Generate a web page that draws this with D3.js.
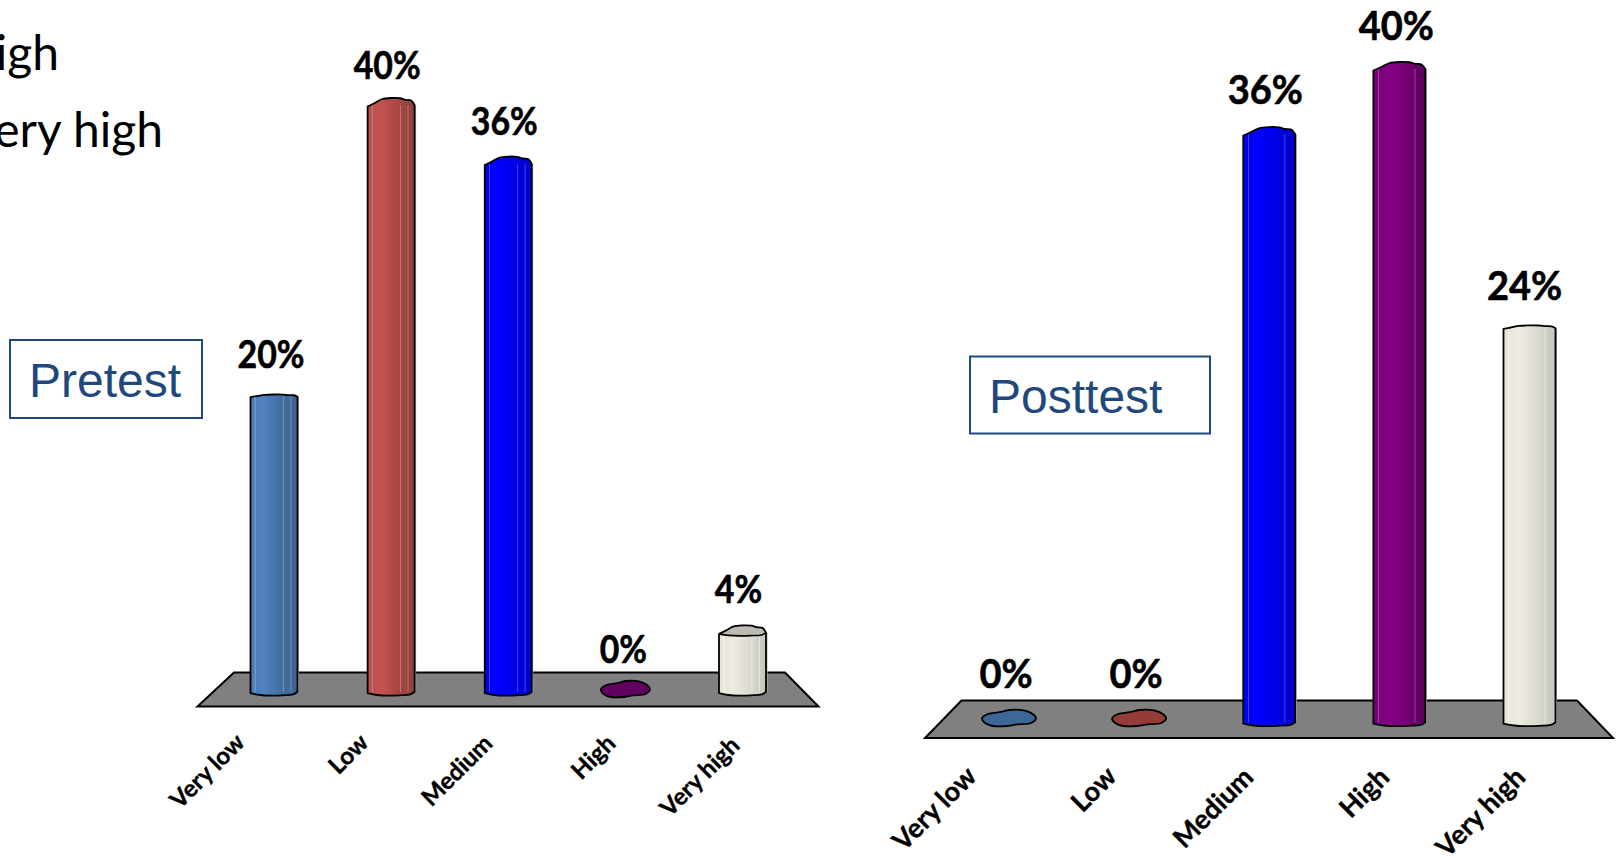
<!DOCTYPE html>
<html>
<head>
<meta charset="utf-8">
<script src="https://cdnjs.cloudflare.com/ajax/libs/d3/7.8.5/d3.min.js"></script>
<style>
html,body{margin:0;padding:0;background:#fff;overflow:hidden}
svg{display:block}
</style>
</head>
<body>
<svg id="chart" width="1616" height="858"></svg>
<script>
const categories = ["Very low", "Low", "Medium", "High", "Very high"];
const pretestValues = [20, 40, 36, 0, 4];
const posttestValues = [0, 0, 36, 40, 24];
const legendLines = ["High", "Very high"];

// Body gradients per category: light edge, bright, mid, dark edge
const bodyRamps = [
  ["#4a7db8", "#4f82bf", "#456f9f", "#3b6493"],
  ["#b84f4c", "#c25350", "#a94744", "#8f3f3d"],
  ["#0000f0", "#0000ff", "#0000e6", "#0000c8"],
  ["#770077", "#840084", "#760076", "#5c005c"],
  ["#e4e3d9", "#eeece1", "#dddcd2", "#c6c5bc"]
];
const flatColors = ["#3d6796", "#933c3a", "#0000c0", "#620062", "#bcbab3"];

const svg = d3.select("#chart");
const defs = svg.append("defs");
bodyRamps.forEach((ramp, i) => {
  const g = defs.append("linearGradient").attr("id", "ramp" + i);
  [[0, ramp[0]], [0.3, ramp[1]], [0.62, ramp[2]], [1, ramp[3]]].forEach(([o, c]) =>
    g.append("stop").attr("offset", o).attr("stop-color", c));
});

// Irregular rim of the faceted cylinders, in units of half width / rim height
const rimTop = [[-1, 0.7], [-0.72, 0.05], [-0.4, -0.75], [0, -1], [0.38, -0.95], [0.62, -0.62], [0.85, -0.5], [1, 0.45]];
const rimBottom = [[1, 0.45], [0.82, 0.9], [0.35, 1.05], [-0.1, 1.1], [-0.6, 1], [-1, 0.7]];
const blobShape = [[-1, 0.05], [-0.78, -0.5], [-0.35, -0.72], [0, -1], [0.55, -0.95], [0.88, -0.5], [1, 0.05],
                   [0.82, 0.62], [0.3, 0.8], [-0.05, 1], [-0.6, 1], [-0.9, 0.6]];

function drawPanel(cfg) {
  const g = svg.append("g");
  const x = d3.scalePoint().domain(cfg.categories).range(cfg.xRange);
  const y = d3.scaleLinear().domain([0, 40]).range(cfg.yRange);
  const half = cfg.barWidth / 2;

  // Grey floor of the 3-D plot
  const [tl, tr, br, bl] = cfg.floor;
  g.append("path")
    .attr("d", d3.line()([tl, tr, br, bl]) + "Z")
    .attr("fill", "#808080").attr("stroke", "#000").attr("stroke-width", 2).attr("stroke-linejoin", "miter");

  const curve = d3.line().curve(d3.curveCatmullRomClosed.alpha(0.5));
  const open = d3.line().curve(d3.curveCatmullRom.alpha(0.5));

  cfg.values.forEach((v, i) => {
    const cx = x(cfg.categories[i]);
    const color = `url(#ramp${i})`;
    if (v === 0) {
      // A zero value leaves only the flattened footprint on the floor
      g.append("path")
        .attr("d", curve(blobShape.map(([a, b]) => [cx + a * (half + 1), y(0) + b * 8])))
        .attr("fill", flatColors[i]).attr("stroke", "#000").attr("stroke-width", 1.8);
    } else {
      const top = y(v);
      const rim = cfg.rim[i];
      const tp = rimTop.map(([a, b]) => [cx + a * half, top + b * rim]);
      const bt = rimBottom.map(([a, b]) => [cx + a * half, cfg.base - 6 + b * 6]);
      const topPath = open(tp);
      const bottomPath = open(bt);
      // grey edge on the right side of the cylinder
      g.append("line").attr("x1", cx + half + 1).attr("x2", cx + half + 1)
        .attr("y1", tp[7][1]).attr("y2", bt[0][1]).attr("stroke", "#b5b5b5").attr("stroke-width", 1);
      g.append("path")
        .attr("d", topPath + "L" + bottomPath.slice(1) + "Z")
        .attr("fill", color).attr("stroke", "none");
      // faint facet highlights
      cfg.facets.forEach(f => {
        g.append("line")
          .attr("x1", cx + f * half).attr("x2", cx + f * half)
          .attr("y1", top + rim * 0.4).attr("y2", cfg.base - 3)
          .attr("stroke", "#fff").attr("stroke-opacity", i === 4 ? 0.5 : 0.28).attr("stroke-width", 1);
      });
      if (cfg.openRim[i]) {
        // short column: the top face is visible
        const lower = open(rimBottom.map(([a, b]) => [cx + a * half, top + b * rim]));
        g.append("path")
          .attr("d", topPath + "L" + lower.slice(1) + "Z")
          .attr("fill", flatColors[i]);
        g.append("path")
          .attr("d", lower)
          .attr("fill", "none").attr("stroke", "#000").attr("stroke-width", 1.6);
      }
      g.append("path")
        .attr("d", topPath + "L" + bottomPath.slice(1) + "Z")
        .attr("fill", "none").attr("stroke", "#000").attr("stroke-width", 1.8).attr("stroke-linejoin", "round");
    }
    // Value label above each column, condensed to a humanist bold width
    g.append("text")
      .attr("transform", `translate(${cx + cfg.labelDx[i]},${y(v) - cfg.labelGap[i]}) scale(${cfg.labelSqueeze},1)`)
      .attr("text-anchor", "middle")
      .attr("font-family", "Lato, 'Noto Sans', sans-serif")
      .attr("font-weight", 700)
      .attr("font-size", cfg.labelSize)
      .attr("fill", "#000")
      .attr("stroke", "#000").attr("stroke-width", 0.6)
      .text(v + "%");
    // Slanted category label under the floor
    const [ax, ay] = cfg.tickAnchor[i];
    g.append("text")
      .attr("transform", `translate(${ax},${ay}) rotate(-45)`)
      .attr("text-anchor", "end")
      .attr("font-family", "Lato, 'Noto Sans', sans-serif")
      .attr("font-weight", 700)
      .attr("font-size", cfg.tickSize)
      .attr("fill", "#000")
      .attr("stroke", "#000").attr("stroke-width", 0.35)
      .text(cfg.categories[i]);
  });

  // Framed panel title
  const [bx, by, bw, bh] = cfg.box;
  g.append("rect").attr("x", bx).attr("y", by).attr("width", bw).attr("height", bh)
    .attr("fill", "#fff").attr("stroke", "#1f497d").attr("stroke-width", 2);
  g.append("text").attr("x", cfg.titlePos[0]).attr("y", cfg.titlePos[1])
    .attr("font-family", "'Liberation Sans', Arial, sans-serif")
    .attr("font-size", 48).attr("fill", "#1f497d").text(cfg.title);
}

drawPanel({
  title: "Pretest", categories, values: pretestValues,
  xRange: [274, 742.5], yRange: [689, 103], barWidth: 47, base: 695,
  floor: [[234, 672.5], [785, 672.5], [818.5, 706.5], [197.5, 706.5]],
  rim: [1.5, 5, 5, 5, 5], openRim: [false, false, false, false, true],
  facets: [-0.8, 0.4, 0.72],
  labelDx: [-3, -4, -4, -2, -4], labelGap: [28, 24, 27, 26, 27], labelSize: 38, labelSqueeze: 0.89,
  tickAnchor: [[246, 744], [370, 744], [494, 745], [617, 745], [741, 747]], tickSize: 24,
  box: [10, 340, 192, 78], titlePos: [29, 397]
});

drawPanel({
  title: "Posttest", categories, values: posttestValues,
  xRange: [1009, 1529.5], yRange: [718, 67], barWidth: 52, base: 725.5,
  floor: [[961.5, 700.5], [1577, 700.5], [1613, 738], [925, 738]],
  rim: [3, 3, 5, 5, 2], openRim: [false, false, false, false, false],
  facets: [-0.8, 0.6],
  labelDx: [-3, -3, -4, -3, -5], labelGap: [30, 30, 28, 27, 27], labelSize: 41, labelSqueeze: 0.927,
  tickAnchor: [[978, 778], [1118, 778], [1255, 779], [1391, 779], [1527, 779]], tickSize: 27,
  box: [970, 356.5, 240, 77], titlePos: [989, 413]
});

// Tail of the bullet list that runs off the left edge
svg.append("g").selectAll("text").data(legendLines).join("text")
  .attr("x", (d, i) => i === 0 ? 59 : 163)
  .attr("y", (d, i) => i === 0 ? 70 : 147)
  .attr("text-anchor", "end")
  .attr("font-family", "Lato, 'Noto Sans', sans-serif")
  .attr("font-size", 48)
  .attr("fill", "#000")
  .text(d => d);
</script>
</body>
</html>
